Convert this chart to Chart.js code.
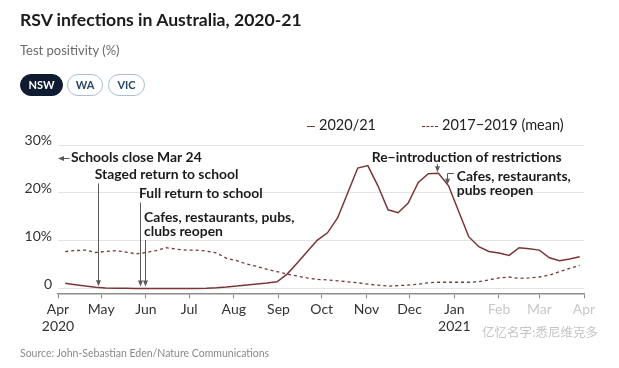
<!DOCTYPE html>
<html><head><meta charset="utf-8">
<script src="https://cdn.jsdelivr.net/npm/chart.js@4.4.0/dist/chart.umd.min.js"></script>
<style>
html,body{margin:0;padding:0;background:#fff;}
body{width:619px;height:368px;position:relative;overflow:hidden;font-family:Lato,"Open Sans",sans-serif;}
#wrap{position:absolute;left:0;top:0;width:619px;height:368px;}
.title{position:absolute;left:20px;top:9px;font-size:17.6px;font-weight:700;color:#1b1b1b;white-space:nowrap;}
.sub{position:absolute;left:20px;top:42px;font-size:13px;color:#6a6a6a;white-space:nowrap;}
.btn{position:absolute;top:74px;height:22px;line-height:20px;box-sizing:border-box;border-radius:11px;font-size:11px;font-weight:700;text-align:center;border:1.5px solid #a9bfd3;color:#27476a;background:#fff;}
.btn.on{background:#0f1b30;border-color:#0f1b30;color:#fff;}
.leg{position:absolute;top:116px;font-size:14.5px;color:#222;white-space:nowrap;height:18px;line-height:18px;}
.leg i{display:inline-block;vertical-align:middle;margin-right:4px;}
.source{position:absolute;left:20px;top:347px;font-size:10.5px;color:#8a8a8a;white-space:nowrap;}
.wm{position:absolute;left:482px;top:322px;font-size:12.5px;color:#c4c4c4;font-family:"Noto Sans CJK SC",sans-serif;white-space:nowrap;}
</style></head>
<body>
<div id="wrap"><canvas id="c"></canvas></div>
<div class="title">RSV infections in Australia, 2020-21</div>
<div class="sub">Test positivity (%)</div>
<div class="btn on" style="left:20px;width:43px;">NSW</div>
<div class="btn" style="left:67px;width:36px;">WA</div>
<div class="btn" style="left:108px;width:37px;">VIC</div>
<div class="leg" style="left:307px;"><i style="width:8px;border-top:1.5px solid #7a3636;"></i>2020/21</div>
<div class="leg" style="left:422px;"><i style="width:16px;border-top:1.5px dashed #7a3636;"></i>2017−2019 (mean)</div>
<div class="source">Source: John-Sebastian Eden/Nature Communications</div>
<div class="wm">亿忆名字:悉尼维克多</div>
<script>
// ---- data ----
const weeks = ["2020-04-06","2020-04-13","2020-04-20","2020-04-27","2020-05-04","2020-05-11","2020-05-18","2020-05-25",
"2020-06-01","2020-06-08","2020-06-15","2020-06-22","2020-06-29","2020-07-06","2020-07-13","2020-07-20","2020-07-27",
"2020-08-03","2020-08-10","2020-08-17","2020-08-24","2020-08-31","2020-09-07","2020-09-14","2020-09-21","2020-09-28",
"2020-10-05","2020-10-12","2020-10-19","2020-10-26","2020-11-02","2020-11-09","2020-11-16","2020-11-23","2020-11-30",
"2020-12-07","2020-12-14","2020-12-21","2020-12-28","2021-01-04","2021-01-11","2021-01-18","2021-01-25","2021-02-01",
"2021-02-08","2021-02-15","2021-02-22","2021-03-01","2021-03-08","2021-03-15","2021-03-22","2021-03-29"];
const positivity2020_21 = [1.2,0.9,0.6,0.35,0.2,0.15,0.15,0.1,0.1,0.1,0.1,0.1,0.1,0.1,0.15,0.25,0.4,
0.6,0.85,1.05,1.25,1.5,3.1,5.4,7.8,10.2,11.7,14.8,20.0,25.2,25.7,21.5,16.5,15.9,17.9,
22.2,24.0,24.1,21.5,16.2,10.9,8.8,7.8,7.5,7.0,8.6,8.4,8.1,6.5,5.9,6.25,6.7];
const positivity2017_19mean = [7.8,8.0,8.1,7.6,7.8,8.0,7.7,7.3,7.6,8.0,8.6,8.3,8.1,8.1,7.9,7.5,6.4,
5.9,5.2,4.7,4.1,3.6,3.1,2.7,2.3,2.0,1.9,1.7,1.5,1.3,1.0,0.8,0.6,0.7,0.8,
1.0,1.3,1.4,1.4,1.4,1.4,1.5,1.9,2.3,2.5,2.2,2.3,2.5,2.9,3.6,4.3,4.9];
const monthTicks = ["2020-04-01","2020-05-01","2020-06-01","2020-07-01","2020-08-01","2020-09-01","2020-10-01",
"2020-11-01","2020-12-01","2021-01-01","2021-02-01","2021-03-01","2021-04-01"];
const monthLabels = [["Apr","2020"],"May","Jun","Jul","Aug","Sep","Oct","Nov","Dec",["Jan","2021"],"Feb","Mar","Apr"];
const yTicks = [0,10,20,30];
const yTickLabels = ["0","10%","20%","30%"];

const ORIGIN = Date.parse("2020-04-01");
const dayOf = d => (Date.parse(d) - ORIGIN) / 86400000;
const series = vals => weeks.map((w,i)=>({x:dayOf(w), y:vals[i]}));

// annotations (date / value anchors)
const notes = [
  {lines:["Schools close Mar 24"], tx:"2020-04-10", ty:27.3, arrowLeft:{from:"2020-04-09", to:"2020-04-01", y:27.3}},
  {lines:["Staged return to school"], tx:"2020-04-26.5", ty:23.75, arrow:{x:"2020-04-28.8", y1:22.0, y2:0.55}},
  {lines:["Full return to school"], tx:"2020-05-27.2", ty:19.8, arrow:{x:"2020-05-28.1", y1:18.0, y2:0.5}},
  {lines:["Cafes, restaurants, pubs,","clubs reopen"], tx:"2020-05-30.7", ty:14.95, arrow:{x:"2020-05-31.6", y1:10.2, y2:0.5}},
  {lines:["Re−introduction of restrictions"], tx:"2020-11-04.7", ty:27.35, arrow:{x:"2020-12-20.2", y1:26.0, y2:24.3}},
  {lines:["Cafes, restaurants,","pubs reopen"], tx:"2021-01-02.7", ty:23.5, bracket:{x:"2020-12-27", x2:"2020-12-31.7", y1:24.2, y2:21.7}}
];
const dayAt = s => { const m = s.match(/^(\d{4}-\d{2}-\d{2})(\.\d+)?$/); return dayOf(m[1]) + (m[2]?parseFloat(m[2]):0); };

const annPlugin = {
  id:'ann',
  afterDatasetsDraw(chart){
    const {ctx, scales:{x,y}} = chart;
    ctx.save();
    ctx.font = '700 13.9px Lato, "Open Sans", sans-serif';
    ctx.textBaseline = 'middle';
    ctx.textAlign = 'left';
    const gray = '#5a5a5a';
    const head = (px, py, dir) => {
      ctx.beginPath();
      if (dir==='down'){ ctx.moveTo(px,py); ctx.lineTo(px-2.5,py-6); ctx.lineTo(px+2.5,py-6); }
      else { ctx.moveTo(px,py); ctx.lineTo(px+6,py-2.5); ctx.lineTo(px+6,py+2.5); }
      ctx.closePath(); ctx.fillStyle = gray; ctx.fill();
    };
    notes.forEach(n=>{
      const tx = x.getPixelForValue(dayAt(n.tx));
      const ty = y.getPixelForValue(n.ty);
      ctx.fillStyle = '#1b1b1b';
      n.lines.forEach((l,i)=>ctx.fillText(l, tx, ty + i*14.5));
      ctx.strokeStyle = gray; ctx.lineWidth = 1;
      if (n.arrow){
        const ax = Math.round(x.getPixelForValue(dayAt(n.arrow.x)))+0.5;
        const a1 = y.getPixelForValue(n.arrow.y1), a2 = y.getPixelForValue(n.arrow.y2);
        ctx.beginPath(); ctx.moveTo(ax,a1); ctx.lineTo(ax,a2-4); ctx.stroke();
        head(ax,a2,'down');
      }
      if (n.arrowLeft){
        const x1 = x.getPixelForValue(dayAt(n.arrowLeft.from)), x2 = x.getPixelForValue(dayAt(n.arrowLeft.to));
        const ay = Math.round(y.getPixelForValue(n.arrowLeft.y))+0.5;
        ctx.beginPath(); ctx.moveTo(x1,ay); ctx.lineTo(x2+4,ay); ctx.stroke();
        head(x2,ay,'left');
      }
      if (n.bracket){
        const bx = Math.round(x.getPixelForValue(dayAt(n.bracket.x)))+0.5, bx2 = x.getPixelForValue(dayAt(n.bracket.x2));
        const b1 = Math.round(y.getPixelForValue(n.bracket.y1))+0.5, b2 = y.getPixelForValue(n.bracket.y2);
        ctx.beginPath(); ctx.moveTo(bx2,b1); ctx.lineTo(bx,b1); ctx.lineTo(bx,b2-4); ctx.stroke();
        head(bx,b2,'down');
      }
    });
    ctx.restore();
  }
};

const lineColor = '#7a3636';
new Chart(document.getElementById('c'), {
  type:'line',
  data:{datasets:[
    {label:'2020/21', data:series(positivity2020_21), borderColor:lineColor, borderWidth:1.5, pointRadius:0, tension:0, fill:false},
    {label:'2017−2019 (mean)', data:series(positivity2017_19mean), borderColor:lineColor, borderWidth:1.3, borderDash:[3,3], pointRadius:0, tension:0, fill:false}
  ]},
  options:{
    responsive:true, maintainAspectRatio:false, animation:false,
    layout:{padding:{left:0,right:35,top:145,bottom:0}},
    plugins:{legend:{display:false}, tooltip:{enabled:false}},
    scales:{
      x:{type:'linear', min:0, max:dayOf("2021-04-01"),
        afterBuildTicks:s=>{ s.ticks = monthTicks.map(d=>({value:dayOf(d)})); },
        afterFit:s=>{ s.height = 368-293.3; },
        grid:{drawOnChartArea:false, drawTicks:true, tickLength:5, color:'#8c8c8c', tickWidth:1},
        border:{display:true, color:'#8c8c8c', width:1.5},
        ticks:{autoSkip:false, maxRotation:0, padding:3, font:{family:'Lato, "Open Sans", sans-serif', size:14}, color:(c)=> c.index>=10 ? '#c8c8c8' : '#333',
          callback:(v,i)=>monthLabels[i]}
      },
      y:{min:-0.9, max:30,
        afterBuildTicks:s=>{ s.ticks = yTicks.map(v=>({value:v})); },
        afterFit:s=>{ s.width = 58; },
        grid:{drawTicks:false, color:'#e3e3e3', lineWidth:1},
        border:{display:false},
        ticks:{padding:6, labelOffset:-4.5, font:{family:'Lato, "Open Sans", sans-serif', size:14}, color:'#333',
          callback:(v)=>yTickLabels[yTicks.indexOf(v)]}
      }
    }
  },
  plugins:[annPlugin]
});
</script>
</body></html>
